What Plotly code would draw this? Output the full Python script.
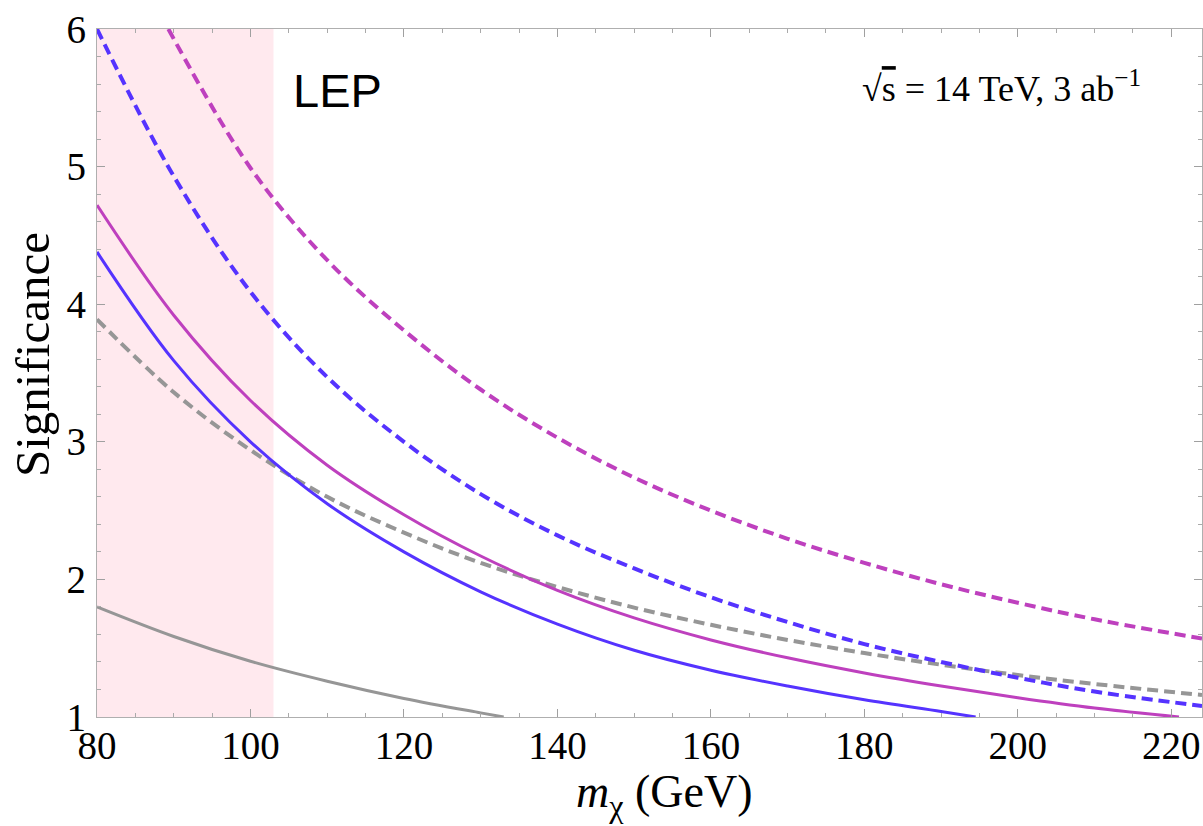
import plotly.graph_objects as go

# ---- data ----
lep_limit = 103.0

x_blue_solid = [80, 90, 100, 110, 120, 130, 140, 150, 160, 170, 180, 190, 194.5]
y_blue_solid = [4.38, 3.59, 3.00, 2.55, 2.20, 1.91, 1.675, 1.485, 1.34, 1.225, 1.125, 1.04, 1.0]

x_magenta_solid = [80, 90, 100, 110, 120, 130, 140, 150, 160, 170, 180, 190, 200, 210, 221]
y_magenta_solid = [4.72, 3.92, 3.30, 2.83, 2.47, 2.17, 1.92, 1.72, 1.56, 1.43, 1.32, 1.225, 1.14, 1.065, 1.0]

x_gray_dashed = [80, 90, 100, 110, 120, 130, 140, 150, 160, 170, 180, 190, 200, 210, 224]
y_gray_dashed = [3.89, 3.36, 2.94, 2.60, 2.34, 2.12, 1.945, 1.795, 1.67, 1.56, 1.465, 1.38, 1.305, 1.24, 1.16]

x_blue_dashed = [80, 90, 100, 110, 120, 130, 140, 150, 160, 170, 180, 190, 200, 210, 224]
y_blue_dashed = [6.0, 4.93, 4.09, 3.47, 3.00, 2.62, 2.32, 2.08, 1.87, 1.69, 1.53, 1.40, 1.285, 1.185, 1.08]

x_magenta_dashed = [89.3, 100, 110, 120, 130, 140, 150, 160, 170, 180, 190, 200, 210, 224]
y_magenta_dashed = [6.0, 4.99, 4.32, 3.81, 3.38, 3.03, 2.74, 2.50, 2.295, 2.12, 1.965, 1.83, 1.71, 1.57]

x_gray_solid = [80, 90, 100, 110, 120, 130, 133]
y_gray_solid = [1.80, 1.585, 1.405, 1.26, 1.135, 1.03, 1.0]

x_ticks = [80, 100, 120, 140, 160, 180, 200, 220]
y_ticks = [1, 2, 3, 4, 5, 6]

BLUE = "rgb(85,51,255)"
MAGENTA = "rgb(190,64,190)"
GRAY = "rgb(150,150,150)"
SERIF = "Liberation Serif, Times New Roman, serif"

fig = go.Figure()

series = [
    (x_gray_solid, y_gray_solid, GRAY, "solid", 3),
    (x_gray_dashed, y_gray_dashed, GRAY, "11px,6px", 4),
    (x_blue_solid, y_blue_solid, BLUE, "solid", 3),
    (x_magenta_solid, y_magenta_solid, MAGENTA, "solid", 3),
    (x_blue_dashed, y_blue_dashed, BLUE, "11px,6px", 4),
    (x_magenta_dashed, y_magenta_dashed, MAGENTA, "11px,6px", 4),
]
for xs, ys, col, dash, w in series:
    fig.add_trace(go.Scatter(x=xs, y=ys, mode="lines",
                             line=dict(color=col, width=w, dash=dash, shape="spline", smoothing=1.0),
                             showlegend=False, hoverinfo="skip", cliponaxis=True))

fig.add_shape(type="rect", xref="x", yref="y", x0=80, x1=lep_limit, y0=1, y1=6,
              fillcolor="rgb(255,233,238)", line=dict(width=0), layer="below")

axis_common = dict(
    showline=True, linecolor="rgb(175,175,175)", linewidth=1.2, mirror="ticks",
    ticks="inside", ticklen=8, tickwidth=1, tickcolor="rgb(160,160,160)",
    showgrid=False, zeroline=False, automargin=False,
    tickfont=dict(family=SERIF, size=39, color="black"),
)

fig.update_xaxes(range=[80, 224], tickvals=x_ticks, ticktext=[str(v) for v in x_ticks],
                 minor=dict(dtick=5, tick0=80, ticks="inside", ticklen=4, tickcolor="rgb(170,170,170)"),
                 ticklabelstandoff=-6,
                 **axis_common)
fig.update_yaxes(range=[1, 6], tickvals=y_ticks, ticktext=[str(v) for v in y_ticks],
                 minor=dict(dtick=0.2, tick0=1, ticks="inside", ticklen=4, tickcolor="rgb(170,170,170)"),
                 ticklabelstandoff=2,
                 **axis_common)

W, H = 1203, 826
L, R, T, B = 97, 1, 29, 109
pw, ph = W - L - R, H - T - B

def px(xp):
    return (xp - L) / pw

def py(yp):
    return (H - B - yp) / ph

fig.add_annotation(text="LEP", x=105.3, y=5.55, xref="x", yref="y", xanchor="left", yanchor="middle",
                   showarrow=False, font=dict(family="Liberation Sans, Arial, sans-serif", size=47, color="black"))
fig.add_annotation(text="√<span style='text-decoration:overline'>s</span> = 14 TeV, 3 ab<sup>−1</sup>",
                   x=px(1001), y=py(86), xref="paper", yref="paper", showarrow=False,
                   xanchor="center", yanchor="middle",
                   font=dict(family=SERIF, size=36, color="black"))
fig.add_annotation(text="Significance", textangle=-90, x=px(33), y=py(355), xref="paper", yref="paper",
                   showarrow=False, xanchor="center", yanchor="middle",
                   font=dict(family=SERIF, size=49, color="black"))
fig.add_annotation(text="<i>m</i><sub>χ</sub> (GeV)", x=px(664), y=py(795), xref="paper", yref="paper",
                   showarrow=False, xanchor="center", yanchor="middle",
                   font=dict(family=SERIF, size=46, color="black"))

fig.update_layout(width=W, height=H, margin=dict(l=L, r=R, t=T, b=B),
                  plot_bgcolor="white", paper_bgcolor="white")

fig.write_html("out.html", config={"displayModeBar": False},
               post_script="document.body.style.margin='0';document.body.style.overflow='hidden';")
